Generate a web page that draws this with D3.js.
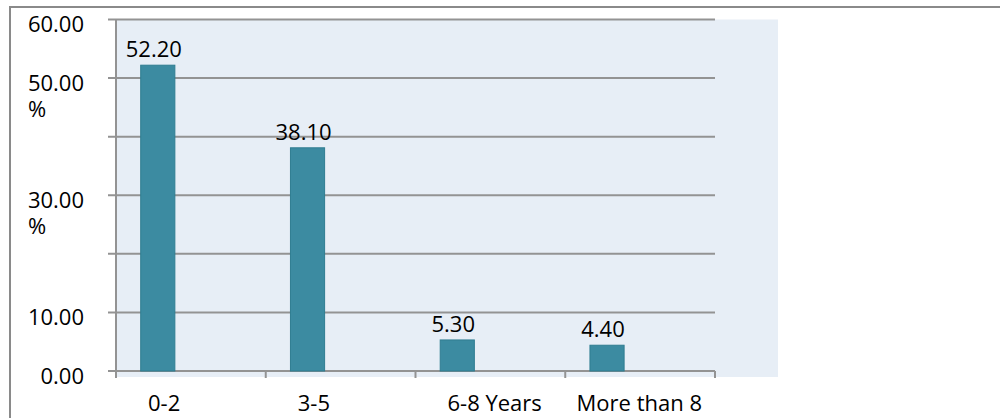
<!DOCTYPE html>
<html>
<head>
<meta charset="utf-8">
<script src="https://cdn.jsdelivr.net/npm/d3@7"></script>
<style>
  html, body { margin: 0; padding: 0; background: #fff; }
  svg { display: block; }
  text { font-family: "Open Sans", "Noto Sans", sans-serif; font-size: 22px; fill: #000; }
</style>
</head>
<body>
<svg id="chart" width="1000" height="418"></svg>
<script>
// Years of experience distribution (%)
const categories = ["0-2", "3-5", "6-8 Years", "More than 8"];
const values = [52.20, 38.10, 5.30, 4.40];
const valueLabels = ["52.20", "38.10", "5.30", "4.40"];
const yTicks = [0, 10, 20, 30, 40, 50, 60];
const yTickLabels = ["0.00", "10.00", "", "30.00\n%", "", "50.00\n%", "60.00"];

const svg = d3.select("#chart");
const W = 1000, H = 418;

const plot = { left: 116, right: 715, top: 19.5, bottom: 371 };

const x = d3.scaleBand().domain(categories).range([plot.left, plot.right]).padding(0);
const y = d3.scaleLinear().domain([0, 60]).range([plot.bottom, plot.top]);

// outer frame
svg.append("rect")
  .attr("x", 10).attr("y", 7)
  .attr("width", W + 10).attr("height", H + 10)
  .attr("fill", "none").attr("stroke", "#8a8a8a").attr("stroke-width", 2);

// plot area background
svg.append("rect")
  .attr("x", plot.left).attr("y", plot.top)
  .attr("width", 778 - plot.left).attr("height", 377 - plot.top)
  .attr("fill", "#e7eef6");

// horizontal gridlines with left tick marks
svg.append("g").selectAll("line").data(yTicks).join("line")
  .attr("x1", plot.left - 8).attr("x2", plot.right)
  .attr("y1", d => y(d)).attr("y2", d => y(d))
  .attr("stroke", "#939393").attr("stroke-width", 2);

// y axis line
svg.append("line")
  .attr("x1", plot.left).attr("x2", plot.left)
  .attr("y1", plot.top).attr("y2", plot.bottom + 7)
  .attr("stroke", "#939393").attr("stroke-width", 2);

// category boundary ticks
const bounds = categories.map(c => x(c)).concat([x(categories[categories.length - 1]) + x.bandwidth()]);
svg.append("g").selectAll("line").data(bounds).join("line")
  .attr("x1", d => d).attr("x2", d => d)
  .attr("y1", plot.bottom).attr("y2", plot.bottom + 7)
  .attr("stroke", "#939393").attr("stroke-width", 2);

// bars
const barOffset = x.bandwidth() * 0.165;
const barWidth = x.bandwidth() * 0.228;
svg.append("g").selectAll("rect").data(values).join("rect")
  .attr("x", (d, i) => x(categories[i]) + barOffset)
  .attr("y", d => y(d))
  .attr("width", barWidth)
  .attr("height", d => y(0) - y(d))
  .attr("fill", "#3c8ba1")
  .attr("stroke", "#2f7d91").attr("stroke-width", 1);

// value labels
svg.append("g").selectAll("text").data(values).join("text")
  .attr("x", (d, i) => x(categories[i]) + barOffset + barWidth / 2 - 4)
  .attr("y", d => y(d) - 8)
  .attr("text-anchor", "middle")
  .text((d, i) => valueLabels[i]);

// y tick labels (wrapped, second line left-aligned under the number)
const yl = svg.append("g");
yTicks.forEach((t, i) => {
  const lines = yTickLabels[i].split("\n");
  if (!lines[0]) return;
  const txt = yl.append("text").attr("y", y(t) + 12.5);
  const first = txt.append("tspan")
    .attr("x", 84)
    .attr("text-anchor", "end")
    .text(lines[0]);
  if (lines.length > 1) {
    const w = first.node().getComputedTextLength();
    txt.append("tspan")
      .attr("x", 84 - w).attr("dy", 26)
      .attr("text-anchor", "start")
      .text(lines[1]);
  }
});

// category labels
const xl = svg.append("g");
categories.forEach(c => {
  const t = xl.append("text").attr("y", 411).text(c);
  const w = t.node().getComputedTextLength();
  const left = Math.min(x(c) + 32, x(c) + x.bandwidth() - w - 13);
  t.attr("x", left);
});
</script>
</body>
</html>
